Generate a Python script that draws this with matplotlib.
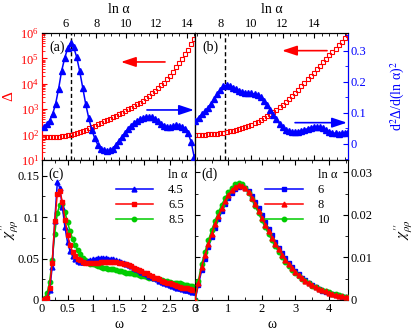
import numpy as np
import matplotlib
matplotlib.use("Agg")
import matplotlib.pyplot as plt
from matplotlib.lines import Line2D
from matplotlib.ticker import MultipleLocator, LogLocator, NullFormatter, FixedLocator

plt.rcParams['font.family'] = ['Liberation Serif', 'DejaVu Serif']
plt.rcParams['mathtext.fontset'] = 'stix'
plt.rcParams['xtick.direction'] = 'in'
plt.rcParams['ytick.direction'] = 'in'

# ---------------- data ----------------
# panel (a): ln(alpha) grid, Delta (log axis), and second derivative (arbitrary units, 0..1)
lnalpha_a = np.round(np.arange(4.5, 14.51, 0.2), 2)
delta_a = [79, 79, 79, 81, 81, 83, 85, 89, 93, 100, 105, 112, 123, 135, 151, 174, 200, 224,
           257, 288, 331, 380, 427, 490, 550, 631, 724, 851, 977, 1122, 1318, 1549, 1820,
           2188, 2692, 3311, 4169, 5370, 6761, 8710, 11220, 15140, 20890, 30200, 44670,
           66070, 97720, 144500, 223900, 363100, 602600]
d2_a = [0.26, 0.28, 0.31, 0.36, 0.44, 0.56, 0.70, 0.80, 0.88, 0.92, 0.89, 0.81, 0.70, 0.57,
        0.44, 0.33, 0.24, 0.17, 0.12, 0.09, 0.075, 0.07, 0.075, 0.09, 0.12, 0.15, 0.18,
        0.21, 0.245, 0.27, 0.29, 0.31, 0.32, 0.33, 0.34, 0.34, 0.335, 0.32, 0.305, 0.285,
        0.27, 0.262, 0.26, 0.265, 0.272, 0.27, 0.262, 0.245, 0.21, 0.14, 0.02]
peak_a = 6.33

# panel (b)
lnalpha_b = np.round(np.arange(6.4, 16.21, 0.2), 2)
delta_b = [0.196, 0.197, 0.198, 0.199, 0.201, 0.203, 0.205, 0.208, 0.212, 0.216, 0.221,
           0.226, 0.231, 0.237, 0.244, 0.252, 0.260, 0.269, 0.279, 0.290, 0.302, 0.315,
           0.329, 0.344, 0.360, 0.377, 0.395, 0.414, 0.434, 0.455, 0.478, 0.502, 0.527,
           0.553, 0.580, 0.607, 0.634, 0.661, 0.688, 0.715, 0.742, 0.769, 0.796, 0.823,
           0.850, 0.877, 0.904, 0.931, 0.958, 0.985]
d2_b = [0.075, 0.085, 0.095, 0.105, 0.116, 0.13, 0.145, 0.16, 0.175, 0.187, 0.19, 0.187,
        0.182, 0.177, 0.171, 0.167, 0.165, 0.164, 0.163, 0.161, 0.157, 0.15, 0.14, 0.125,
        0.11, 0.094, 0.079, 0.065, 0.053, 0.046, 0.041, 0.039, 0.039, 0.04, 0.042, 0.045,
        0.049, 0.052, 0.054, 0.055, 0.054, 0.05, 0.045, 0.04, 0.036, 0.034, 0.033, 0.034,
        0.036, 0.04]
peak_b = 8.32
ticks_b = [8, 10, 12, 14]

# panel (c)
omega_c = np.round(np.arange(0, 3.001, 0.05), 2)
chi_c_45 = [0.000, 0.000, 0.002, 0.012, 0.040, 0.095, 0.142, 0.135, 0.112, 0.088, 0.070,
            0.059, 0.053, 0.049, 0.047, 0.046, 0.046, 0.046, 0.047, 0.048, 0.049, 0.050,
            0.051, 0.051, 0.051, 0.051, 0.050, 0.050, 0.049, 0.048, 0.047, 0.046, 0.045,
            0.044, 0.042, 0.041, 0.039, 0.037, 0.036, 0.034, 0.032, 0.031, 0.029, 0.028,
            0.026, 0.025, 0.023, 0.022, 0.021, 0.019, 0.018, 0.017, 0.016, 0.015, 0.014,
            0.013, 0.012, 0.012, 0.011, 0.010, 0.010]
chi_c_65 = [0.000, 0.001, 0.003, 0.015, 0.045, 0.095, 0.128, 0.132, 0.118, 0.097, 0.079,
            0.066, 0.058, 0.053, 0.050, 0.048, 0.046, 0.045, 0.045, 0.045, 0.045, 0.045,
            0.045, 0.046, 0.046, 0.046, 0.046, 0.046, 0.046, 0.046, 0.045, 0.045, 0.044,
            0.043, 0.042, 0.041, 0.039, 0.038, 0.036, 0.035, 0.033, 0.032, 0.030, 0.029,
            0.027, 0.026, 0.025, 0.023, 0.022, 0.021, 0.020, 0.019, 0.018, 0.017, 0.016,
            0.015, 0.014, 0.014, 0.013, 0.012, 0.012]
chi_c_85 = [0.000, 0.002, 0.008, 0.022, 0.048, 0.080, 0.105, 0.115, 0.116, 0.106, 0.094,
            0.083, 0.074, 0.066, 0.060, 0.055, 0.051, 0.048, 0.046, 0.044, 0.043, 0.042,
            0.041, 0.040, 0.039, 0.039, 0.038, 0.037, 0.037, 0.036, 0.035, 0.035, 0.034,
            0.033, 0.033, 0.032, 0.031, 0.031, 0.030, 0.029, 0.029, 0.028, 0.027, 0.027,
            0.026, 0.025, 0.025, 0.024, 0.023, 0.023, 0.022, 0.021, 0.021, 0.020, 0.020,
            0.019, 0.018, 0.018, 0.017, 0.017, 0.016]
labels_c = ['4.5', '6.5', '8.5']

# panel (d)
omega_d = np.round(np.arange(0, 4.601, 0.1), 2)
chi_d_6 = [0.000, 0.0035, 0.0070, 0.0097, 0.0124, 0.0148, 0.0170, 0.0190, 0.0208, 0.0225,
           0.0239, 0.0251, 0.0260, 0.0266, 0.0267, 0.0264, 0.0256, 0.0245, 0.0231, 0.0216,
           0.0200, 0.0184, 0.0168, 0.0152, 0.0137, 0.0123, 0.0110, 0.0098, 0.0087, 0.0077,
           0.0068, 0.0060, 0.0052, 0.0046, 0.0040, 0.0035, 0.0030, 0.0026, 0.0022, 0.0019,
           0.0016, 0.0014, 0.0011, 0.0009, 0.0008, 0.0006, 0.0005]
chi_d_8 = [0.000, 0.0040, 0.0078, 0.0105, 0.0132, 0.0156, 0.0178, 0.0198, 0.0216, 0.0232,
           0.0246, 0.0258, 0.0266, 0.0270, 0.0269, 0.0263, 0.0253, 0.0240, 0.0225, 0.0209,
           0.0193, 0.0177, 0.0161, 0.0146, 0.0132, 0.0119, 0.0106, 0.0095, 0.0085, 0.0075,
           0.0066, 0.0058, 0.0051, 0.0045, 0.0040, 0.0035, 0.0030, 0.0026, 0.0023, 0.0020,
           0.0017, 0.0015, 0.0012, 0.0010, 0.0009, 0.0007, 0.0006]
chi_d_10 = [0.000, 0.0045, 0.0085, 0.0113, 0.0140, 0.0164, 0.0186, 0.0206, 0.0224, 0.0240,
            0.0253, 0.0264, 0.0272, 0.0275, 0.0272, 0.0264, 0.0252, 0.0237, 0.0221, 0.0204,
            0.0187, 0.0171, 0.0155, 0.0140, 0.0126, 0.0113, 0.0101, 0.0090, 0.0080, 0.0071,
            0.0063, 0.0056, 0.0049, 0.0044, 0.0039, 0.0034, 0.0030, 0.0026, 0.0023, 0.0020,
            0.0018, 0.0015, 0.0013, 0.0011, 0.0010, 0.0008, 0.0007]
labels_d = ['6', '8', '10']

RED = '#ff0000'
BLUE = '#0000ff'
GREEN = '#00cc00'
FS = 9

# ---------------- figure ----------------
fig = plt.figure(figsize=(4.15, 3.36), dpi=100)
W, H = 415.0, 336.0
def rect(x0, x1, y0, y1):
    return [x0 / W, 1 - y1 / H, (x1 - x0) / W, (y1 - y0) / H]

ax_a = fig.add_axes(rect(42, 195, 33, 160))
ax_b = fig.add_axes(rect(195, 348, 33, 160))
ax_c = fig.add_axes(rect(42, 195, 160, 300))
ax_d = fig.add_axes(rect(195, 348, 160, 300))

arrow_style = '-|>,head_length=0.9,head_width=0.3'

# ---- (a)
ax_a.plot(lnalpha_a, delta_a, 's', mfc='none', mec=RED, ms=3.3, mew=0.8, zorder=3)
ax_a.set_yscale('log')
ax_a.set_ylim(10, 1e6)
ax_a.set_xlim(4.4, 14.55)
ax_a.xaxis.set_major_locator(MultipleLocator(2))
ax_a.xaxis.set_minor_locator(MultipleLocator(0.5))
ax_a.tick_params(axis='x', which='both', top=True, bottom=True, labeltop=True,
                 labelbottom=False, labelsize=FS, pad=2)
ax_a.tick_params(axis='x', which='major', length=3.5)
ax_a.tick_params(axis='x', which='minor', length=2)
ax_a.tick_params(axis='y', which='both', colors=RED, labelsize=FS, right=False, pad=2)
ax_a.yaxis.set_major_locator(LogLocator(base=10, numticks=10))
ax_a.yaxis.set_minor_locator(LogLocator(base=10, subs=np.arange(2, 10), numticks=10))
ax_a.yaxis.set_minor_formatter(NullFormatter())
ax_a.spines['left'].set_color(RED)
ax_a.set_ylabel('Δ', color=RED, fontsize=11)
ax_a.yaxis.set_label_coords(-0.176, 0.5)
ax_a.set_xlabel('ln α', fontsize=10, labelpad=4)
ax_a.xaxis.set_label_position('top')
ax_a.axvline(peak_a, color='black', ls=(0, (3, 2)), lw=1.0, zorder=2)
ax_a2 = ax_a.twinx()
ax_a2.plot(lnalpha_a, d2_a, '-^', color=BLUE, ms=3.8, lw=1.1, zorder=4)
ax_a2.set_ylim(0, 1)
ax_a2.set_yticks([])
ax_a2.spines['left'].set_color(RED)
ax_a.text(0.05, 0.86, '(a)', transform=ax_a.transAxes, fontsize=10)
ax_a.annotate('', xy=(0.516, 0.772), xytext=(0.804, 0.772), xycoords='axes fraction',
              arrowprops=dict(arrowstyle=arrow_style, color=RED, lw=1.2, shrinkA=0, shrinkB=0))
ax_a.annotate('', xy=(0.993, 0.394), xytext=(0.686, 0.394), xycoords='axes fraction',
              arrowprops=dict(arrowstyle=arrow_style, color=BLUE, lw=1.2, shrinkA=0, shrinkB=0))

# ---- (b)
ax_b.plot(lnalpha_b, delta_b, 's', mfc='none', mec=RED, ms=3.3, mew=0.8, zorder=3)
ax_b.set_ylim(0, 1)
ax_b.set_yticks([])
ax_b.set_xlim(6.37, 16.2)
ax_b.xaxis.set_major_locator(FixedLocator(ticks_b))
ax_b.xaxis.set_minor_locator(MultipleLocator(0.5))
ax_b.tick_params(axis='x', which='both', top=True, bottom=True, labeltop=True,
                 labelbottom=False, labelsize=FS, pad=2)
ax_b.tick_params(axis='x', which='major', length=3.5)
ax_b.tick_params(axis='x', which='minor', length=2)
ax_b.set_xlabel('ln α', fontsize=10, labelpad=4)
ax_b.xaxis.set_label_position('top')
ax_b.axvline(peak_b, color='black', ls=(0, (3, 2)), lw=1.0, zorder=2)
ax_b2 = ax_b.twinx()
ax_b2.plot(lnalpha_b, d2_b, '-^', color=BLUE, ms=3.8, lw=1.1, zorder=4)
ax_b2.set_ylim(-0.052, 0.358)
ax_b2.yaxis.set_major_locator(MultipleLocator(0.1))
ax_b2.yaxis.set_minor_locator(MultipleLocator(0.05))
ax_b2.yaxis.set_major_formatter(plt.FuncFormatter(lambda v, p: '0' if abs(v) < 1e-9 else f'{v:.1f}'))
ax_b2.tick_params(axis='y', which='both', colors=BLUE, labelsize=FS, pad=2)
ax_b2.tick_params(axis='y', which='minor', length=2)
ax_b2.spines['right'].set_color(BLUE)
ax_b2.set_ylabel(r'd$^2$Δ/d(ln α)$^2$', color=BLUE, fontsize=10)
ax_b2.yaxis.set_label_coords(1.27, 0.5)
ax_b.text(0.05, 0.86, '(b)', transform=ax_b.transAxes, fontsize=10)
ax_b.annotate('', xy=(0.569, 0.861), xytext=(0.863, 0.861), xycoords='axes fraction',
              arrowprops=dict(arrowstyle=arrow_style, color=RED, lw=1.2, shrinkA=0, shrinkB=0))
ax_b.annotate('', xy=(0.993, 0.294), xytext=(0.654, 0.294), xycoords='axes fraction',
              arrowprops=dict(arrowstyle=arrow_style, color=BLUE, lw=1.2, shrinkA=0, shrinkB=0))

# ---- (c)
l1, = ax_c.plot(omega_c, chi_c_45, '-^', color=BLUE, ms=3.5, lw=1.1, zorder=3)
l3, = ax_c.plot(omega_c, chi_c_85, '-o', color=GREEN, ms=3.2, lw=1.1, zorder=2)
l2, = ax_c.plot(omega_c, chi_c_65, '-s', color=RED, ms=3.2, lw=1.1, zorder=4)
ax_c.set_xlim(0, 3)
ax_c.set_ylim(0, 0.169)
ax_c.xaxis.set_major_locator(MultipleLocator(0.5))
ax_c.xaxis.set_minor_locator(MultipleLocator(0.25))
ax_c.yaxis.set_major_locator(MultipleLocator(0.05))
ax_c.yaxis.set_minor_locator(MultipleLocator(0.025))
ax_c.xaxis.set_major_formatter(plt.FuncFormatter(lambda v, p: f'{v:g}'))
ax_c.yaxis.set_major_formatter(plt.FuncFormatter(lambda v, p: f'{v:g}'))
ax_c.tick_params(which='both', top=True, labelsize=FS, pad=2)
ax_c.tick_params(which='minor', length=2)
ax_c.set_xlabel('ω', fontsize=10, labelpad=2)
ax_c.set_ylabel(r'$\chi^{\prime\prime}_{\rho\rho}$', fontsize=11)
ax_c.yaxis.set_label_coords(-0.135, 0.5)
ax_c.text(0.04, 0.87, '(c)', transform=ax_c.transAxes, fontsize=10)
blank = Line2D([], [], linestyle='none')
ax_c.legend([blank, l1, l2, l3], ['ln α'] + labels_c, loc='upper right',
            bbox_to_anchor=(1.0, 0.99), frameon=False, fontsize=FS, handlelength=3.0,
            handletextpad=1.2, labelspacing=0.25, borderaxespad=0.2)

# ---- (d)
m1, = ax_d.plot(omega_d, chi_d_6, '-s', color=BLUE, ms=3.0, lw=1.1, zorder=2)
m3, = ax_d.plot(omega_d, chi_d_10, '-o', color=GREEN, ms=3.2, lw=1.1, zorder=3)
m2, = ax_d.plot(omega_d, chi_d_8, '-^', color=RED, ms=3.5, lw=1.1, zorder=4)
ax_d.set_xlim(0, 4.57)
ax_d.set_ylim(0, 0.0329)
ax_d.xaxis.set_major_locator(MultipleLocator(1))
ax_d.xaxis.set_minor_locator(MultipleLocator(0.5))
ax_d.yaxis.set_major_locator(MultipleLocator(0.01))
ax_d.yaxis.set_minor_locator(MultipleLocator(0.005))
ax_d.yaxis.set_major_formatter(plt.FuncFormatter(lambda v, p: '0' if abs(v) < 1e-12 else f'{v:.2f}'))
ax_d.tick_params(which='both', top=True, right=True, left=True, labelleft=False,
                 labelright=True, labelsize=FS, pad=2)
ax_d.tick_params(which='minor', length=2)
ax_d.yaxis.set_label_position('right')
ax_d.set_xlabel('ω', fontsize=10, labelpad=2)
ax_d.set_ylabel(r'$\chi^{\prime\prime}_{\rho\rho}$', fontsize=11)
ax_d.yaxis.set_label_coords(1.29, 0.5)
ax_d.text(0.04, 0.87, '(d)', transform=ax_d.transAxes, fontsize=10)
ax_d.legend([blank, m1, m2, m3], ['ln α'] + labels_d, loc='upper right',
            bbox_to_anchor=(0.98, 0.99), frameon=False, fontsize=FS, handlelength=3.0,
            handletextpad=1.2, labelspacing=0.25, borderaxespad=0.2)

fig.savefig('out.png', dpi=100)
